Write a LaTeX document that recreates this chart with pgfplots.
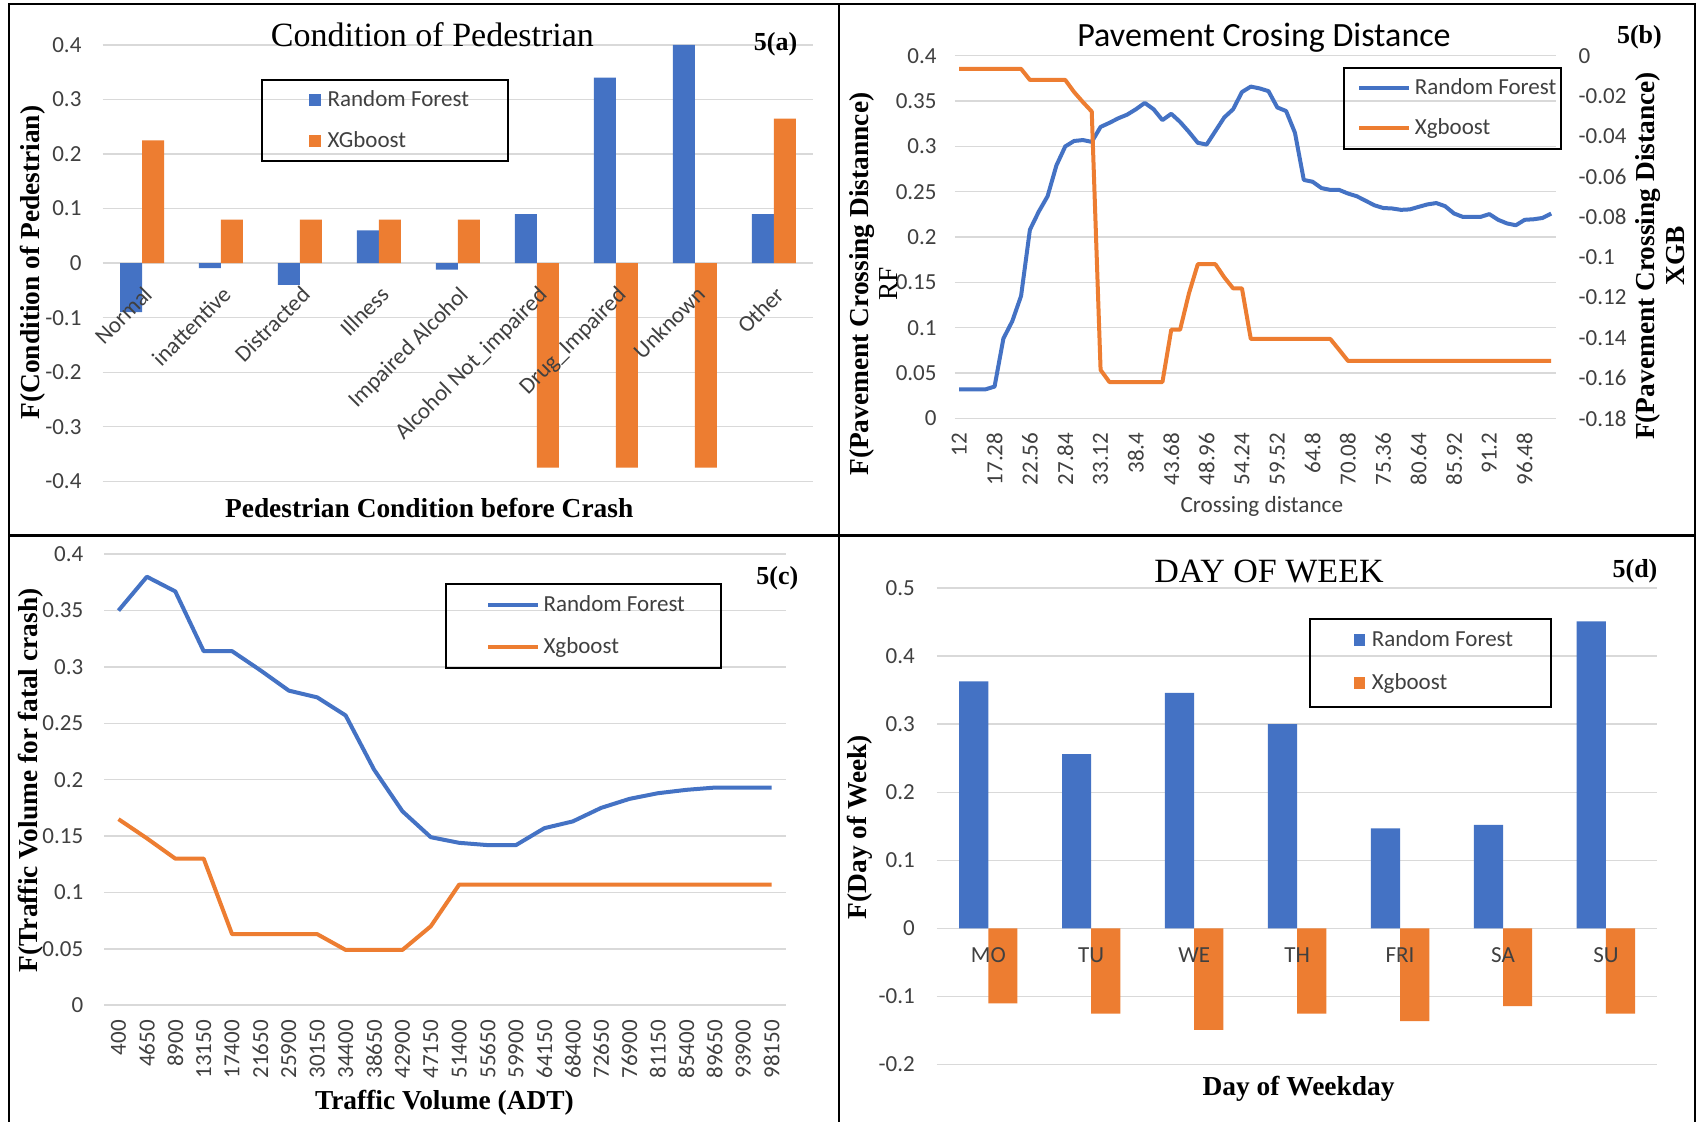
\documentclass[border=0pt]{standalone}
\usepackage{fontspec}
\setmainfont{Carlito}
\newfontfamily\tnr{Liberation Serif}
\usepackage{pgfplots}
\usepackage{pgfplotstable}
\pgfplotsset{compat=1.18}
\definecolor{rfc}{HTML}{4472C4}
\definecolor{xgc}{HTML}{ED7D31}
\definecolor{gridc}{HTML}{D9D9D9}
\definecolor{tickc}{HTML}{404040}
\newcommand{\tkf}{\fontsize{11.5}{13}\selectfont}
\newcommand{\blab}{\tnr\bfseries\fontsize{13.7}{13.5}\selectfont}
\newcommand{\ttl}{\tnr\fontsize{17}{19}\selectfont}
\newcommand{\pnl}{\tnr\bfseries\fontsize{13}{15}\selectfont}

\pgfplotsset{
  xl/.style={
    scale only axis, anchor=south west,
    axis line style={draw=none},
    major tick length=0pt,
    ymajorgrids, grid style={gridc, line width=0.7pt},
    tick label style={font=\tkf, text=tickc},
    scaled y ticks=false, scaled x ticks=false,
    clip=false,
    legend cell align=left,
    legend style={draw=none, fill=none, inner sep=0pt, font=\tkf, text=tickc,
       nodes={inner sep=0pt}},
  },
}

\pgfplotstableread{
j rf xg
0 0.032 -0.0065
1 0.032 -0.0065
2 0.032 -0.0065
3 0.032 -0.0065
4 0.035 -0.0065
5 0.088 -0.0065
6 0.107 -0.0065
7 0.135 -0.0065
8 0.208 -0.012
9 0.228 -0.012
10 0.245 -0.012
11 0.279 -0.012
12 0.300 -0.012
13 0.306 -0.018
14 0.307 -0.023
15 0.305 -0.0277
16 0.3215 -0.156
17 0.326 -0.162
18 0.331 -0.162
19 0.335 -0.162
20 0.341 -0.162
21 0.348 -0.162
22 0.341 -0.162
23 0.329 -0.162
24 0.336 -0.136
25 0.327 -0.136
26 0.316 -0.118
27 0.304 -0.1035
28 0.302 -0.1035
29 0.317 -0.1035
30 0.332 -0.110
31 0.341 -0.1155
32 0.360 -0.1155
33 0.366 -0.1406
34 0.364 -0.1406
35 0.361 -0.1406
36 0.343 -0.1406
37 0.339 -0.1406
38 0.315 -0.1406
39 0.263 -0.1406
40 0.261 -0.1406
41 0.254 -0.1406
42 0.252 -0.1406
43 0.252 -0.146
44 0.248 -0.1515
45 0.245 -0.1515
46 0.240 -0.1515
47 0.235 -0.1515
48 0.232 -0.1515
49 0.2315 -0.1515
50 0.230 -0.1515
51 0.2305 -0.1515
52 0.2333 -0.1515
53 0.236 -0.1515
54 0.2375 -0.1515
55 0.234 -0.1515
56 0.226 -0.1515
57 0.2222 -0.1515
58 0.2222 -0.1515
59 0.2222 -0.1515
60 0.2253 -0.1515
61 0.219 -0.1515
62 0.215 -0.1515
63 0.213 -0.1515
64 0.219 -0.1515
65 0.2196 -0.1515
66 0.221 -0.1515
67 0.2259 -0.1515
}\tblb

\pgfplotstableread{
i rf xg
0 0.350 0.165
1 0.380 0.148
2 0.367 0.130
3 0.314 0.130
4 0.314 0.063
5 0.297 0.063
6 0.279 0.063
7 0.273 0.063
8 0.257 0.049
9 0.209 0.049
10 0.172 0.049
11 0.149 0.070
12 0.144 0.107
13 0.142 0.107
14 0.142 0.107
15 0.157 0.107
16 0.163 0.107
17 0.175 0.107
18 0.183 0.107
19 0.188 0.107
20 0.191 0.107
21 0.193 0.107
22 0.193 0.107
23 0.193 0.107
}\tblc

\begin{document}
\begin{tikzpicture}[x=1pt,y=1pt]
\useasboundingbox (0,0) rectangle (851,561);
\fill[white] (0,0) rectangle (851,561);

% ---------------- (a) ----------------
\begin{axis}[xl,
  at={(51.25pt,320.35pt)}, width=355.5pt, height=218.15pt,
  xmin=-0.5, xmax=8.5, ymin=-0.4, ymax=0.4,
  axis x line=middle, axis y line=left,
  ybar=0pt, bar width=11pt,
  xtick=\empty,
  ytick={-0.4,-0.3,-0.2,-0.1,0,0.1,0.2,0.3,0.4},
  yticklabels={-0.4,-0.3,-0.2,-0.1,0,0.1,0.2,0.3,0.4},
  yticklabel style={xshift=-7pt},
  legend style={at={(0.2894,0.8270)}, anchor=west, row sep=10.6pt,
    /tikz/every odd column/.append style={column sep=3.5pt}},
]
\addplot[fill=rfc, draw=none, legend image code/.code={\fill[rfc] (0pt,-3pt) rectangle (6pt,3pt);}]
  coordinates {(0,-0.09) (1,-0.009) (2,-0.04) (3,0.06) (4,-0.012) (5,0.09) (6,0.34) (7,0.40) (8,0.09)};
\addlegendentry{Random Forest}
\addplot[fill=xgc, draw=none, legend image code/.code={\fill[xgc] (0pt,-3pt) rectangle (6pt,3pt);}]
  coordinates {(0,0.225) (1,0.08) (2,0.08) (3,0.08) (4,0.08) (5,-0.375) (6,-0.375) (7,-0.375) (8,0.265)};
\addlegendentry{XGboost}
\end{axis}
% category labels of (a), drawn above the bars
\begin{axis}[xl, ymajorgrids=false,
  at={(51.25pt,320.35pt)}, width=355.5pt, height=218.15pt,
  xmin=-0.5, xmax=8.5, ymin=-0.4, ymax=0.4,
  axis x line=middle, axis y line=left,
  ytick=\empty,
  xtick={0,1,2,3,4,5,6,7,8},
  xticklabels={Normal, inattentive, Distracted, Illness, Impaired Alcohol, Alcohol Not\_impaired, Drug\_Impaired, Unknown, Other},
  xticklabel style={yshift=-6pt, rotate=45, anchor=north east},
]
\end{axis}

% ---------------- (b) ----------------
\begin{axis}[xl,
  at={(477.4pt,351.85pt)}, width=300.4pt, height=181.25pt,
  xmin=-0.5, xmax=67.5, ymin=0, ymax=0.4,
  xtick={0,4,8,12,16,20,24,28,32,36,40,44,48,52,56,60,64},
  xticklabels={12,17.28,22.56,27.84,33.12,38.4,43.68,48.96,54.24,59.52,64.8,70.08,75.36,80.64,85.92,91.2,96.48},
  xticklabel style={yshift=-3.7pt, rotate=90, anchor=east},
  ytick={0,0.05,0.1,0.15,0.2,0.25,0.3,0.35,0.4},
  yticklabels={0,0.05,0.1,0.15,0.2,0.25,0.3,0.35,0.4},
  yticklabel style={xshift=-5.6pt},
]
\addplot[rfc, line width=2pt, line join=round] table[x=j,y=rf]{\tblb};
\end{axis}
\begin{axis}[xl,
  at={(477.4pt,351.85pt)}, width=300.4pt, height=181.25pt,
  ymajorgrids=false,
  xmin=-0.5, xmax=67.5, ymin=-0.18, ymax=0,
  hide x axis, axis y line=right,
  ytick={-0.18,-0.16,-0.14,-0.12,-0.1,-0.08,-0.06,-0.04,-0.02,0},
  yticklabels={-0.18,-0.16,-0.14,-0.12,-0.1,-0.08,-0.06,-0.04,-0.02,0},
  yticklabel style={xshift=8pt},
  legend style={at={(0.6694,0.8555)}, anchor=west, row sep=10.2pt,
    /tikz/every odd column/.append style={column sep=1.8pt}},
]
\addlegendimage{legend image code/.code={\draw[rfc, line width=2pt] (0pt,0pt) -- (25pt,0pt);}}
\addlegendentry{Random Forest}
\addplot[xgc, line width=2pt, line join=round, legend image code/.code={\draw[xgc, line width=2pt] (0pt,0pt) -- (25pt,0pt);}] table[x=j,y=xg]{\tblb};
\addlegendentry{Xgboost}
\end{axis}

% ---------------- (c) ----------------
\begin{axis}[xl,
  at={(52.15pt,58.4pt)}, width=340.7pt, height=225.5pt,
  xmin=-0.5, xmax=23.5, ymin=0, ymax=0.4,
  xtick={0,1,2,3,4,5,6,7,8,9,10,11,12,13,14,15,16,17,18,19,20,21,22,23},
  xticklabels={400,4650,8900,13150,17400,21650,25900,30150,34400,38650,42900,47150,51400,55650,59900,64150,68400,72650,76900,81150,85400,89650,93900,98150},
  xticklabel style={yshift=-4pt, rotate=90, anchor=east},
  ytick={0,0.05,0.1,0.15,0.2,0.25,0.3,0.35,0.4},
  yticklabels={0,0.05,0.1,0.15,0.2,0.25,0.3,0.35,0.4},
  yticklabel style={xshift=-7pt},
  legend style={at={(0.5596,0.8406)}, anchor=west, row sep=11.2pt,
    /tikz/every odd column/.append style={column sep=1.8pt}},
]
\addplot[rfc, line width=2pt, line join=round, legend image code/.code={\draw[rfc, line width=2pt] (0pt,0pt) -- (25pt,0pt);}] table[x=i,y=rf]{\tblc};
\addlegendentry{Random Forest}
\addplot[xgc, line width=2pt, line join=round, legend image code/.code={\draw[xgc, line width=2pt] (0pt,0pt) -- (25pt,0pt);}] table[x=i,y=xg]{\tblc};
\addlegendentry{Xgboost}
\end{axis}

% ---------------- (d) ----------------
\begin{axis}[xl,
  at={(468.4pt,28.7pt)}, width=360.3pt, height=238.3pt,
  xmin=-0.5, xmax=6.5, ymin=-0.2, ymax=0.5,
  axis x line=middle, axis y line=left,
  ybar=0pt, bar width=14.6pt,
  xtick=\empty,
  ytick={-0.2,-0.1,0,0.1,0.2,0.3,0.4,0.5},
  yticklabels={-0.2,-0.1,0,0.1,0.2,0.3,0.4,0.5},
  yticklabel style={xshift=-7.5pt},
  legend style={at={(0.5790,0.8454)}, anchor=west, row sep=12.2pt,
    /tikz/every odd column/.append style={column sep=3.2pt}},
]
\addplot[fill=rfc, draw=none, legend image code/.code={\fill[rfc] (0pt,-3pt) rectangle (5.5pt,3pt);}]
  coordinates {(0,0.363) (1,0.256) (2,0.346) (3,0.300) (4,0.147) (5,0.152) (6,0.451)};
\addlegendentry{Random Forest}
\addplot[fill=xgc, draw=none, legend image code/.code={\fill[xgc] (0pt,-3pt) rectangle (5.5pt,3pt);}]
  coordinates {(0,-0.110) (1,-0.125) (2,-0.149) (3,-0.125) (4,-0.136) (5,-0.114) (6,-0.125)};
\addlegendentry{Xgboost}
\end{axis}
% category labels of (d), drawn above the bars
\begin{axis}[xl, ymajorgrids=false,
  at={(468.4pt,28.7pt)}, width=360.3pt, height=238.3pt,
  xmin=-0.5, xmax=6.5, ymin=-0.2, ymax=0.5,
  axis x line=middle, axis y line=left,
  ytick=\empty,
  xtick={0,1,2,3,4,5,6},
  xticklabels={MO,TU,WE,TH,FRI,SA,SU},
  xticklabel style={yshift=-6pt, anchor=north},
]
\end{axis}

% legend frames
\draw[line width=1pt] (130.95,480.4) rectangle (254.15,521.05);
\draw[line width=1pt] (671.85,486.35) rectangle (780.65,526.85);
\draw[line width=1pt] (223,226.9) rectangle (360.45,268.8);
\draw[line width=1pt] (655.15,207.65) rectangle (775.25,251.35);

% titles and labels
\node[anchor=base] at (216.2,537.6) {\ttl Condition of Pedestrian};
\node[anchor=base] at (387.8,535.8) {\pnl 5(a)};
\node[anchor=base] at (214.6,302) {\blab Pedestrian Condition before Crash};
\node[rotate=90] at (16.2,429.7) {\blab F(Condition of Pedestrian)};

\node[anchor=base] at (632,537.6) {\fontsize{17}{19}\selectfont Pavement Crosing Distance};
\node[anchor=base] at (819.7,539.4) {\pnl 5(b)};
\node[anchor=base] at (630.9,304.7) {\fontsize{11.6}{13}\selectfont\color{tickc}Crossing distance};
\node[rotate=90] at (431,418.9) {\blab F(Pavement Crossing Distannce)};
\node[rotate=90] at (444.5,418.9) {\tnr\fontsize{13.7}{13.5}\selectfont RF};
\node[rotate=90] at (824.2,433) {\blab F(Pavement Crossing Distance)};
\node[rotate=90] at (837.7,433) {\blab XGB};

\node[anchor=base] at (388.7,268.8) {\pnl 5(c)};
\node[anchor=base] at (222.2,6.2) {\blab Traffic Volume (ADT)};
\node[rotate=90] at (15.3,170.8) {\blab F(Traffic Volume for fatal crash)};

\node[anchor=base] at (634.5,269.7) {\ttl DAY OF WEEK};
\node[anchor=base] at (817.5,272.4) {\pnl 5(d)};
\node[anchor=base] at (649.3,13.4) {\blab Day of Weekday};
\node[rotate=90] at (430.1,147.4) {\blab F(Day of Week)};

% frame
\draw[line width=1pt] (4.5,0) -- (4.5,559) -- (847.5,559) -- (847.5,0);
\draw[line width=1pt] (419.65,0) -- (419.65,559);
\draw[line width=1.5pt] (4.5,293.35) -- (847.5,293.35);
\end{tikzpicture}
\end{document}
